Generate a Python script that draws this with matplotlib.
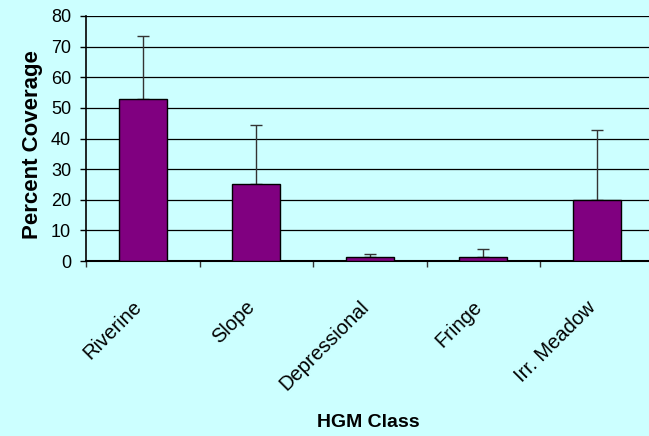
import numpy as np
import matplotlib
matplotlib.use("Agg")
import matplotlib.pyplot as plt
import matplotlib.transforms as mtrans

# valores
classes = ["Riverine", "Slope", "Depressional", "Fringe", "Irr. Meadow"]
coverage = [53.0, 25.0, 1.2, 1.2, 20.0]
err_up = [20.6, 19.3, 1.1, 2.7, 22.8]

BG = "#CCFFFF"
BAR = "#800080"

plt.rcParams["font.family"] = ["Liberation Sans", "DejaVu Sans"]

fig = plt.figure(figsize=(6.49, 4.36), dpi=100, facecolor=BG)
ax = fig.add_axes([86 / 649, 1 - 261 / 436, (653.5 - 86) / 649, (261 - 16) / 436])
ax.set_facecolor(BG)

x = np.arange(len(classes))
ax.bar(x, coverage, width=0.42, color=BAR, edgecolor="black", linewidth=1.0, zorder=3)
ax.errorbar(x, coverage, yerr=[np.zeros(len(x)), err_up], fmt="none",
            ecolor="#333333", elinewidth=1.0, capsize=4, capthick=1.0, zorder=2)

ax.set_xlim(-0.5, len(classes) - 0.5)
ax.set_ylim(0, 80)
ax.set_yticks(range(0, 81, 10))
ax.yaxis.grid(True, color="black", linewidth=0.9, zorder=0)
ax.set_axisbelow(True)
ax.tick_params(axis="y", direction="out", length=4.3, width=1, pad=6.5, labelsize=13)

# marcas en los límites de categoría, etiquetas en el centro
ax.set_xticks(np.arange(len(classes) + 1) - 0.5)
ax.set_xticklabels([])
ax.tick_params(axis="x", which="major", direction="out", length=4.3, width=1, color="#333333")
ax.set_xticks(x, minor=True)
ax.set_xticklabels(classes, minor=True, rotation=45, ha="right", va="center",
                   rotation_mode="anchor", fontsize=14.5)
ax.tick_params(axis="x", which="minor", length=0, pad=31)
shift = mtrans.ScaledTranslation(-4 / 100, 0, fig.dpi_scale_trans)
for lab in ax.get_xticklabels(minor=True):
    lab.set_transform(lab.get_transform() + shift)

ax.spines["right"].set_visible(False)
ax.spines["top"].set_visible(False)
ax.spines["left"].set_linewidth(1.2)
ax.spines["bottom"].set_linewidth(1.5)

fig.text(33 / 649, 1 - 145 / 436, "Percent Coverage", rotation=90, ha="center",
         va="center", fontsize=16, fontweight="bold")
fig.text(368 / 649, 1 - 422 / 436, "HGM Class", ha="center", va="center",
         fontsize=14, fontweight="bold")

fig.savefig("out.png", dpi=100, facecolor=BG)
